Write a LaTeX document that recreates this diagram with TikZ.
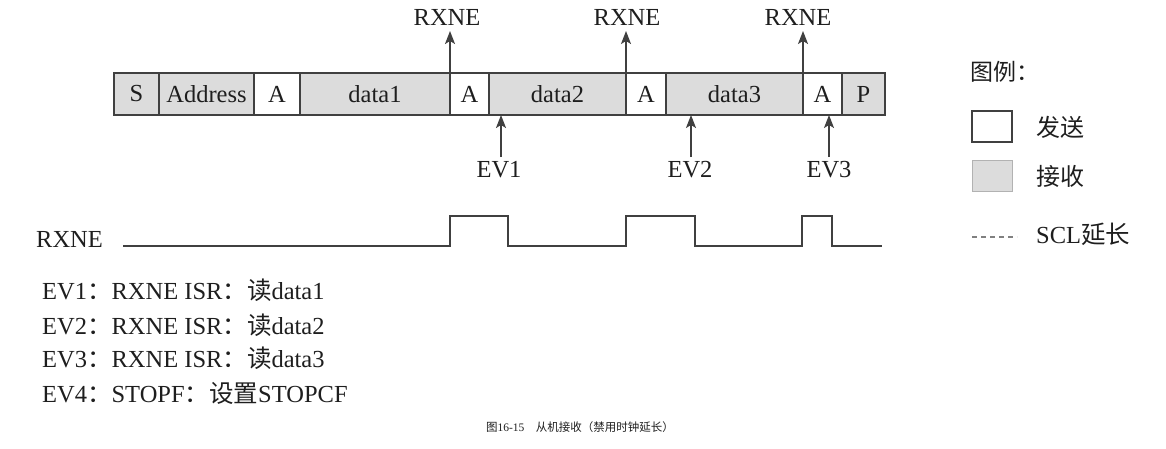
\documentclass[tikz,border=0pt]{standalone}
\usepackage{fontspec}
\setmainfont{Liberation Serif}
\newfontfamily\cjk{Noto Sans CJK SC}
\usetikzlibrary{arrows.meta}
\definecolor{rx}{HTML}{DCDCDC}
\definecolor{ln}{HTML}{404040}
\definecolor{tx}{HTML}{1E1E1E}
\tikzset{
  cellbox/.style={draw=ln, line width=1.2pt, minimum height=42pt, inner sep=0pt, outer sep=0pt, font=\fontsize{24.5}{26}\selectfont, text=tx},
  recv/.style={cellbox, fill=rx},
  send/.style={cellbox, fill=white},
  lab/.style={font=\fontsize{24.5}{26}\selectfont, text=tx, inner sep=1pt},
  arr/.style={draw=ln, line width=1.5pt, -{Stealth[length=13pt,width=10pt,inset=3pt]}},
  wave/.style={draw=ln, line width=1.8pt},
}
\begin{document}
\begin{tikzpicture}[x=1pt,y=-1pt]
\useasboundingbox (0,0) rectangle (1166,448);
% frame
\node[recv, minimum width=45pt]  (S)  at (136.5,94) {S};
\node[recv, minimum width=95pt]  (ad) at (206.5,94) {Address};
\node[send, minimum width=46pt]  (a1) at (277,94) {A};
\node[recv, minimum width=150pt] (d1) at (375,94) {data1};
\node[send, minimum width=39pt]  (a2) at (469.5,94) {A};
\node[recv, minimum width=137pt] (d2) at (557.5,94) {data2};
\node[send, minimum width=40pt]  (a3) at (646,94) {A};
\node[recv, minimum width=137pt] (d3) at (734.5,94) {data3};
\node[send, minimum width=39pt]  (a4) at (822.5,94) {A};
\node[recv, minimum width=43pt]  (P)  at (863.5,94) {P};
% RXNE arrows
\node[lab] (r1) at (447,17) {RXNE};
\node[lab] (r2) at (627,17) {RXNE};
\node[lab] (r3) at (798,17) {RXNE};
\draw[arr] (d1.north east) -- (d1.north east |- 0,31);
\draw[arr] (d2.north east) -- (d2.north east |- 0,31);
\draw[arr] (d3.north east) -- (d3.north east |- 0,31);
% EV arrows
\node[lab] (e1) at (499,170) {EV1};
\node[lab] (e2) at (690,170) {EV2};
\node[lab] (e3) at (829,170) {EV3};
\coordinate (e1b) at (501,157);
\coordinate (e2b) at (691,157);
\coordinate (e3b) at (829,157);
\draw[arr] (e1b) -- (e1b |- d2.south);
\draw[arr] (e2b) -- (e2b |- d3.south);
\draw[arr] (e3b) -- (e3b |- a4.south);
% waveform
\node[lab, anchor=west] (rw) at (35,239) {RXNE};
\draw[wave] (123,246) -- (450,246) -- (450,216) -- (508,216) -- (508,246)
  -- (626,246) -- (626,216) -- (695,216) -- (695,246)
  -- (802,246) -- (802,216) -- (832,216) -- (832,246) -- (882,246);
% events
\node[lab, anchor=west] (ev1) at (41,290) {EV1{\cjk ：}RXNE ISR{\cjk ：读}data1};
\node[lab, anchor=west] (ev2) at (41,325) {EV2{\cjk ：}RXNE ISR{\cjk ：读}data2};
\node[lab, anchor=west] (ev3) at (41,358) {EV3{\cjk ：}RXNE ISR{\cjk ：读}data3};
\node[lab, anchor=west] (ev4) at (41,393) {EV4{\cjk ：}STOPF{\cjk ：设置}STOPCF};
% legend
\node[lab, anchor=west, font=\cjk\fontsize{23}{24}\selectfont] (lg) at (969,72) {图例：};
\node[draw=ln, line width=1.5pt, fill=white, minimum width=40pt, minimum height=31pt, inner sep=0pt] (lw) at (992,126.5) {};
\node[draw=gray!60, line width=0.6pt, fill=rx, minimum width=40pt, minimum height=31pt, inner sep=0pt] (lr) at (992,175.5) {};
\node[lab, anchor=west, font=\cjk\fontsize{24}{26}\selectfont] (ls) at (1035,127) {发送};
\node[lab, anchor=west, font=\cjk\fontsize{24}{26}\selectfont] (lrx) at (1035,176) {接收};
\coordinate (dl1) at (972,237);
\coordinate (dl2) at (1017,237);
\draw[draw=gray, line width=1.2pt, dash pattern=on 5pt off 4pt] (dl1) -- (dl2);
\node[lab, anchor=west] (lscl) at (1035,234) {SCL{\cjk 延长}};
% caption
\node[font=\fontsize{11.5}{12}\selectfont, text=tx] (cap) at (580,427) {{\cjk 图}16-15\quad{\cjk 从机接收（禁用时钟延长）}};
\end{tikzpicture}
\end{document}
